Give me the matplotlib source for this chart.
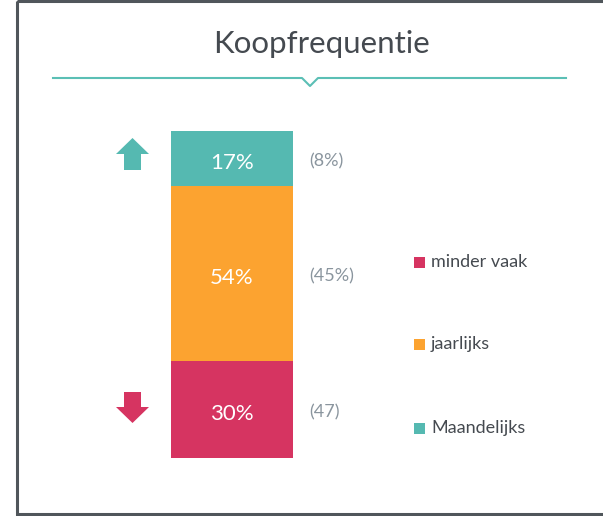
import matplotlib.pyplot as plt
from matplotlib.patches import Polygon, Rectangle

plt.rcParams['font.family'] = ['Lato', 'DejaVu Sans']

# data
categories = ['minder vaak', 'jaarlijks', 'Maandelijks']
values = [30, 54, 17]
previous = ['(47)', '(45%)', '(8%)']
colors = ['#d63461', '#fca330', '#55b9b1']

W, H = 603, 516
fig = plt.figure(figsize=(W / 100, H / 100), dpi=100)

# overlay in pixel coordinates for decorations
deco = fig.add_axes([0, 0, 1, 1])
deco.set_xlim(0, W)
deco.set_ylim(H, 0)
deco.axis('off')

# card border
deco.add_patch(Rectangle((17, 1), 700, 513, fill=False, edgecolor='#50565b', lw=2.2))

# title and underline with notch
deco.text(322, 44, 'Koopfrequentie', ha='center', va='center', fontsize=22.5, color='#454a50')
deco.plot([53, 302, 310, 318, 566], [78, 78, 86, 78, 78], color='#5bbfb5', lw=1.5)

# up / down arrows
up = [(132.5, 138), (149, 154), (141, 154), (141, 170), (124, 170), (124, 154), (116, 154)]
down = [(124, 392), (141, 392), (141, 407), (149, 407), (132.5, 423), (116, 407), (124, 407)]
deco.add_patch(Polygon(up, closed=True, color=colors[2], lw=0))
deco.add_patch(Polygon(down, closed=True, color=colors[0], lw=0))

# stacked bar
ax = fig.add_axes([171 / W, (H - 458) / H, 122 / W, 327 / H])
bottom = 0
for cat, val, prev, col in zip(categories, values, previous, colors):
    ax.bar(0, val, bottom=bottom, width=1, color=col)
    mid = bottom + val / 2
    ax.text(0, mid - 1.3, f'{val}%', ha='center', va='center', fontsize=16, color='white')
    ax.text(0.63, mid - 0.8, prev, ha='left', va='center', fontsize=13, color='#8a959e')
    bottom += val
ax.set_xlim(-0.5, 0.5)
ax.set_ylim(0, sum(values))
ax.axis('off')

# legend
legend_y = [262, 344, 428]
for cat, col, y in zip(categories, colors, legend_y):
    deco.add_patch(Rectangle((414, y - 5.5), 11, 11, color=col, lw=0))
    deco.text(431, y, cat, ha='left', va='center', fontsize=13, color='#454a50')

fig.savefig('out.png', dpi=100)
